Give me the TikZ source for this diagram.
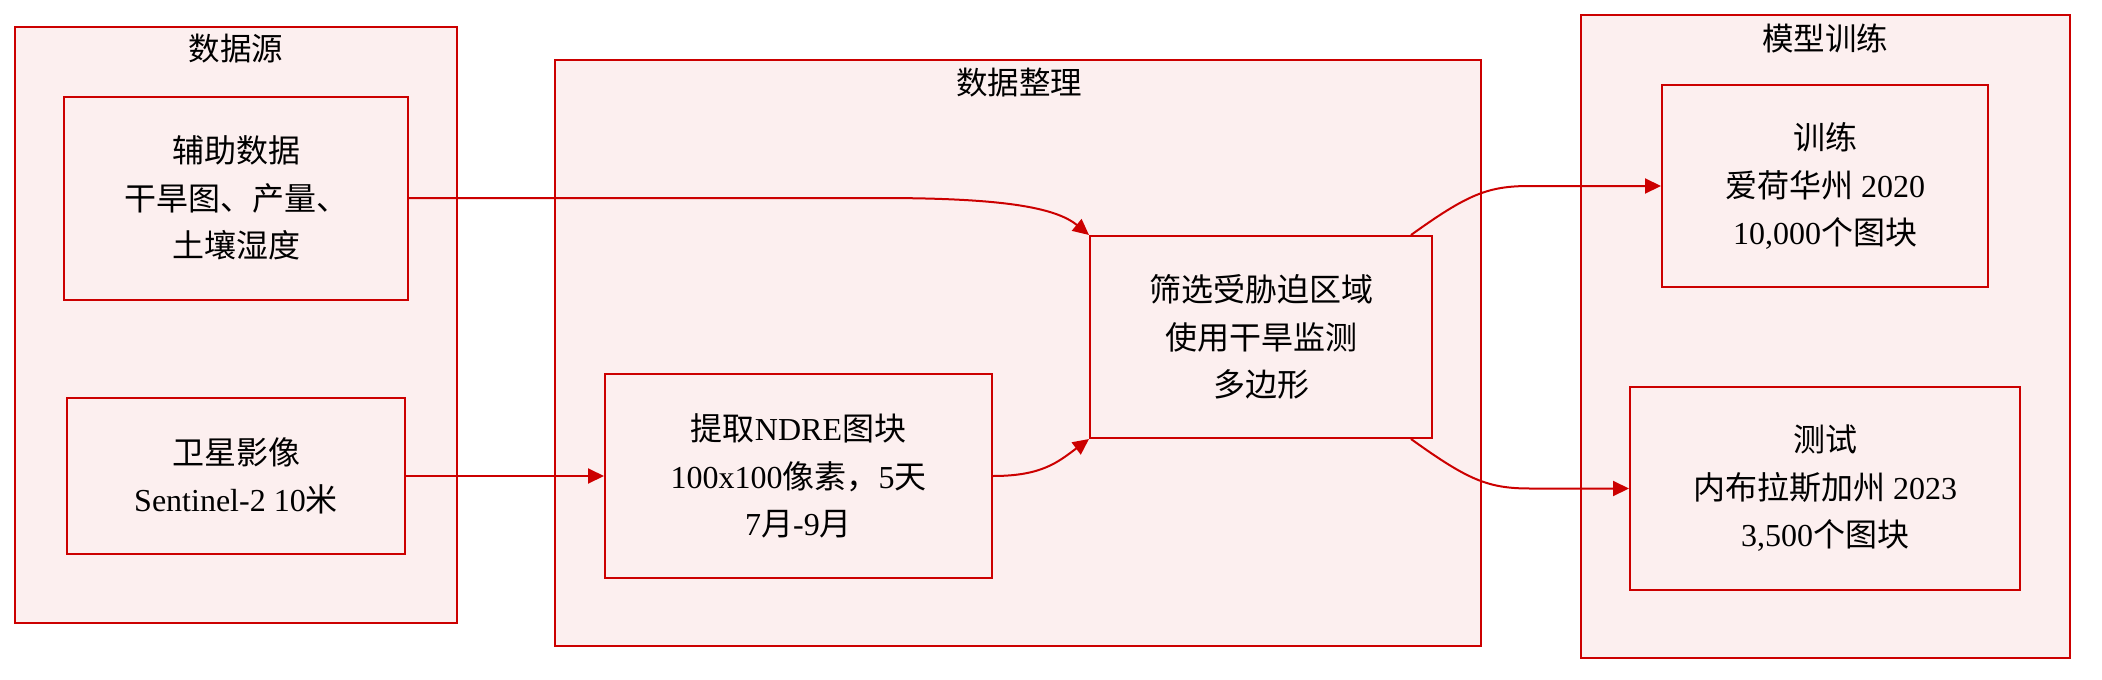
\documentclass[tikz,border=0pt]{standalone}
\usepackage{fontspec}
\setmainfont{Liberation Serif}
\newfontfamily\zhfont{Noto Sans CJK SC}
\newcommand\zh[1]{{\zhfont #1}}
\usetikzlibrary{arrows.meta}
\definecolor{boxfill}{RGB}{252,239,239}
\definecolor{boxline}{RGB}{204,0,0}
\begin{document}
\begin{tikzpicture}[x=1pt,y=-1pt,
  grp/.style={draw=boxline,fill=boxfill,line width=2pt,inner sep=0pt},
  proc/.style={draw=boxline,fill=boxfill,line width=2pt,inner sep=0pt,align=center,
    font=\fontsize{32}{47.5}\selectfont},
  ttl/.style={font=\fontsize{31.5}{47.5}\selectfont,inner sep=0pt},
  link/.style={draw=boxline,line width=2pt,-{Triangle[length=16pt,width=15pt]}}]
\useasboundingbox (0,0) rectangle (2102,680);
% groups
\node[grp,minimum width=442pt,minimum height=596pt] (g1) at (236,325) {};
\node[grp,minimum width=926pt,minimum height=586pt] (g2) at (1018,353) {};
\node[grp,minimum width=489pt,minimum height=643pt] (g3) at (1825.5,336.5) {};
\node[ttl] (t1) at (236,49) {\zh{数据源}};
\node[ttl] (t2) at (1019,83) {\zh{数据整理}};
\node[ttl] (t3) at (1825,38) {\zh{模型训练}};
% process boxes
\node[proc,minimum width=344pt,minimum height=203pt] (aux) at (236,198)
  {\zh{辅助数据}\\\zh{干旱图、产量、}\\\zh{土壤湿度}};
\node[proc,minimum width=338pt,minimum height=156pt] (sat) at (236,476)
  {\zh{卫星影像}\\Sentinel-2 10\zh{米}};
\node[proc,minimum width=387pt,minimum height=204pt] (ndre) at (798.5,476)
  {\zh{提取}NDRE\zh{图块}\\100x100\zh{像素，}5\zh{天}\\7\zh{月}-9\zh{月}};
\node[proc,minimum width=342pt,minimum height=202pt] (filt) at (1261,337)
  {\zh{筛选受胁迫区域}\\\zh{使用干旱监测}\\\zh{多边形}};
\node[proc,minimum width=326pt,minimum height=202pt] (train) at (1825,186)
  {\zh{训练}\\\zh{爱荷华州} 2020\\10,000\zh{个图块}};
\node[proc,minimum width=390pt,minimum height=203pt] (test) at (1825,488.5)
  {\zh{测试}\\\zh{内布拉斯加州} 2023\\3,500\zh{个图块}};
% helper coordinates
\coordinate (fo1) at ([xshift=-22pt]filt.north east);
\coordinate (fo2) at ([xshift=-22pt]filt.south east);
% connectors
\draw[link] (aux.east) -- (880,198) .. controls (1000,198) and (1055,207) .. (filt.north west);
\draw[link] (sat.east) -- (ndre.west);
\draw[link] (ndre.east) .. controls (1042,476) and (1058,462) .. (filt.south west);
\draw[link] (fo1) .. controls (1468,194) and (1488,186) .. (1530,186) -- (train.west);
\draw[link] (fo2) .. controls (1468,480) and (1488,488.5) .. (1530,488.5) -- (test.west);
\end{tikzpicture}
\end{document}
